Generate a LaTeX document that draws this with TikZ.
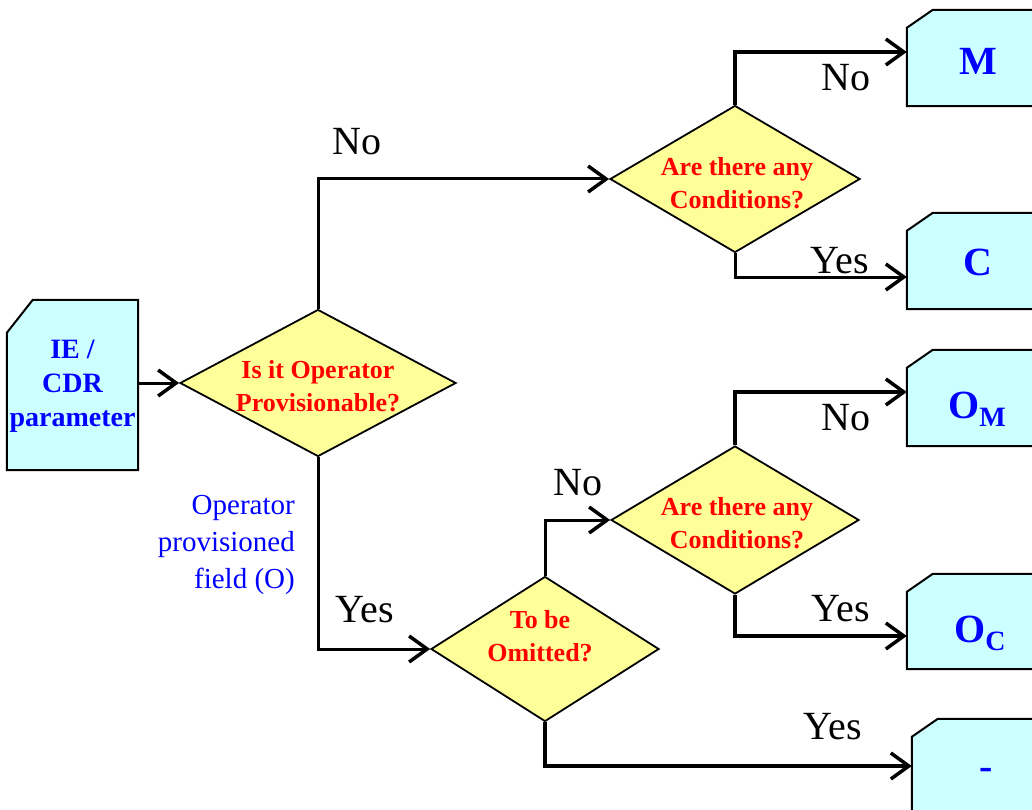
\documentclass[tikz,border=0pt]{standalone}
\usepackage{fontspec}
\setmainfont{Liberation Serif}
\usetikzlibrary{shapes.geometric,arrows.meta,backgrounds}
\definecolor{cardfill}{HTML}{CCFFFF}
\definecolor{diafill}{HTML}{FFFF99}
\begin{document}
\begin{tikzpicture}[x=1pt,y=-1pt,
  card/.style={rectangle, text=blue, font=\fontsize{40}{46}\selectfont\bfseries,
    inner sep=0pt, minimum width=143pt, minimum height=96pt},
  cardline/.style={draw=black, line width=2pt, fill=cardfill, line join=miter},
  decision/.style={diamond, draw=black, line width=1.8pt, fill=diafill, inner sep=0pt},
  dtext/.style={text=red, font=\fontsize{26}{33}\selectfont\bfseries, align=center, inner sep=0pt},
  lbl/.style={font=\fontsize{40}{46}\selectfont, inner sep=0pt},
  arr/.style={line width=3pt, line join=miter, -{Straight Barb[length=18pt,width=26pt,line width=3.5pt]}},
  arrthick/.style={arr, line width=4pt}
]
\useasboundingbox (0,0) rectangle (1032,810);
\clip (0,0) rectangle (1032,810);

% source card
\node[card, minimum width=131pt, minimum height=170pt] (ie) at (72.5,385) {};
\node[text=blue, font=\fontsize{28}{34}\selectfont\bfseries, align=center, inner sep=0pt]
  (iet) at (72.5,386) {IE /\\CDR\\parameter};

% decisions
\node[decision, minimum width=276pt, minimum height=147pt] (d1) at (318,383) {};
\node[dtext] (d1t) at (318,386) {Is it Operator\\Provisionable?};
\node[decision, minimum width=250pt, minimum height=147pt] (d2) at (735,179) {};
\node[dtext] (d2t) at (737,183) {Are there any\\Conditions?};
\node[decision, minimum width=248pt, minimum height=148pt] (d3) at (735,520) {};
\node[dtext] (d3t) at (737,523) {Are there any\\Conditions?};
\node[decision, minimum width=228pt, minimum height=145pt] (d4) at (545,649) {};
\node[dtext] (d4t) at (540,636) {To be\\Omitted?};

% result cards
\node[card] (m) at (978.5,58) {};
\node[card] (c) at (978.5,261) {};
\node[card] (om) at (978.5,398) {};
\node[card, minimum height=95pt] (oc) at (978.5,621.5) {};
\node[card] (dash) at (983.5,767) {};

\begin{scope}[on background layer]
\path[cardline] (ie.south west) -- ([yshift=-33pt]ie.north west) -- ([xshift=26pt]ie.north west) -- (ie.north east) -- (ie.south east) -- cycle;
\foreach \n in {m,c,om,oc,dash}
  \path[cardline] (\n.south west) -- ([yshift=-18pt]\n.north west) -- ([xshift=26pt]\n.north west) -- (\n.north east) -- (\n.south east) -- cycle;
\end{scope}

\node[card, minimum width=0pt, minimum height=0pt] (mt) at (978,61) {M};
\node[card, minimum width=0pt, minimum height=0pt] (ct) at (978,262) {C};
\node[card, minimum width=0pt, minimum height=0pt, anchor=base] (omt) at (977,418) {O\raisebox{-8pt}{\fontsize{28}{28}\selectfont M}};
\node[card, minimum width=0pt, minimum height=0pt, anchor=base] (oct) at (980,642) {O\raisebox{-8pt}{\fontsize{28}{28}\selectfont C}};
\node[card, minimum width=0pt, minimum height=0pt] (dasht) at (986,774) {-};

% connectors
\draw[arr] (ie.east |- d1.west) -- (d1.west);
\draw[arr] (d1.north) |- (d2.west);
\draw[arr] (d1.south) |- (d4.west);
\draw[arrthick] (d2.north) |- ([yshift=6pt]m.west);
\draw[arr] (d2.south) |- ([yshift=-16pt]c.west);
\draw[arr] (d4.north) |- (d3.west);
\draw[arrthick] (d3.north) |- ([yshift=6pt]om.west);
\draw[arrthick] (d3.south) |- ([yshift=-14.5pt]oc.west);
\draw[arrthick] (d4.south) |- ([yshift=1pt]dash.west);

% labels
\node[lbl] (no1) at (357,142) {No};
\node[lbl] (no2) at (846,78) {No};
\node[lbl] (yes2) at (840,261) {Yes};
\node[lbl] (no3) at (846,418) {No};
\node[lbl] (yes3) at (841,609) {Yes};
\node[lbl] (no4) at (578,483) {No};
\node[lbl] (yes4) at (833,727) {Yes};
\node[lbl] (yes1) at (365,610) {Yes};
\node[text=blue, font=\fontsize{29}{37}\selectfont, align=right, anchor=east, inner sep=0pt]
  (opf) at (295,545) {Operator\\provisioned\\field (O)};
\end{tikzpicture}
\end{document}
